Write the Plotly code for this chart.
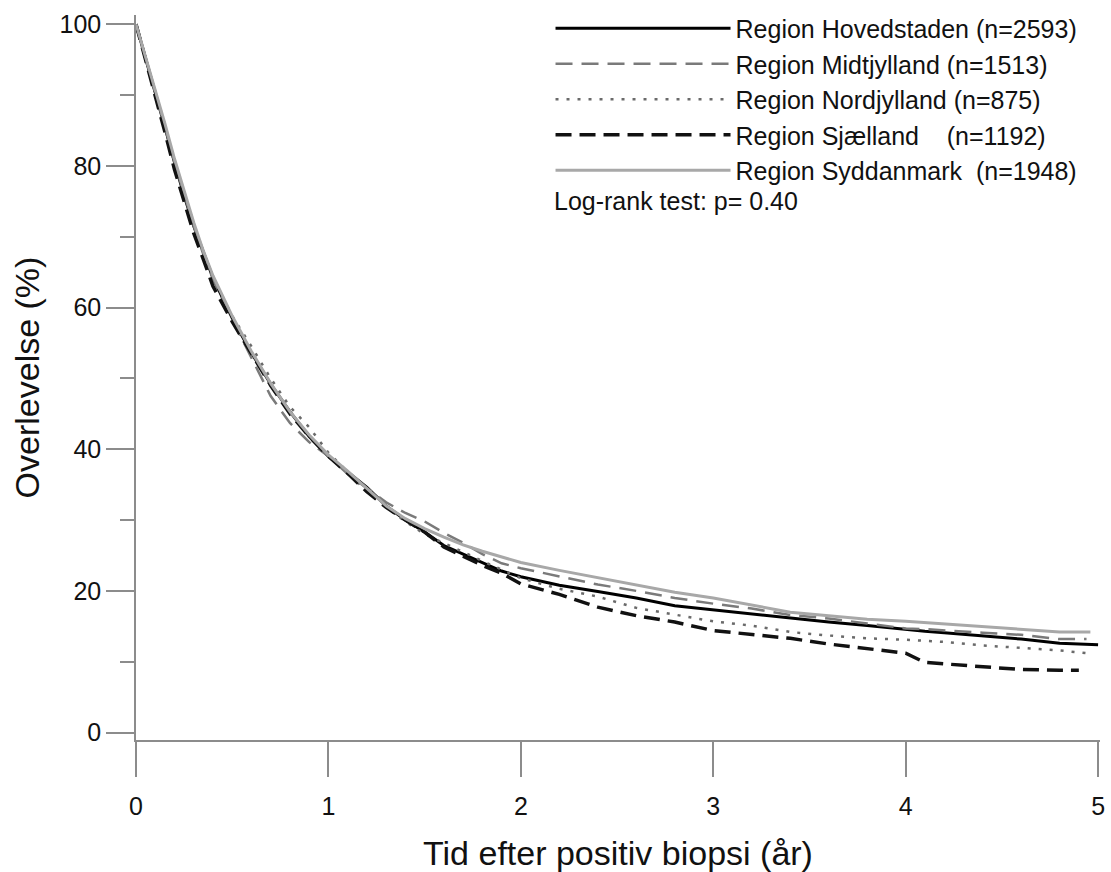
import plotly.graph_objects as go

# Time grid (years after positive biopsy)
time_years = [0, 0.05, 0.1, 0.15, 0.2, 0.25, 0.3, 0.35, 0.4, 0.5, 0.6, 0.7, 0.8, 0.9,
              1.0, 1.1, 1.2, 1.3, 1.4, 1.5, 1.6, 1.7, 1.8, 1.9, 2.0, 2.2, 2.4, 2.6,
              2.8, 3.0, 3.2, 3.4, 3.6, 3.8, 4.0, 4.1, 4.2, 4.4, 4.6, 4.8]

hovedstaden = [100, 95.2, 90.5, 85.5, 80.5, 75.8, 71.5, 67.7, 64.2, 58.5, 53.6, 49.2, 45.3, 41.8,
               39.0, 36.8, 34.6, 32.0, 30.0, 28.3, 26.4, 25.2, 24.0, 22.8, 22.0, 20.8, 19.9, 19.0,
               17.9, 17.3, 16.8, 16.1, 15.6, 15.1, 14.5, 14.3, 14.1, 13.7, 13.2, 12.6]
midtjylland = [100, 95.0, 90.3, 85.5, 80.5, 76.0, 71.5, 67.5, 64.0, 58.3, 53.0, 47.5, 43.7, 41.0,
               39.0, 36.5, 34.5, 32.5, 31.0, 29.8, 28.2, 26.8, 25.2, 23.9, 23.2, 22.0, 20.9, 20.0,
               19.0, 18.2, 17.5, 16.6, 16.1, 15.4, 14.7, 14.6, 14.4, 14.1, 13.8, 13.2]
nordjylland = [100, 95.3, 90.6, 85.8, 80.8, 76.2, 71.8, 67.8, 64.3, 58.8, 54.5, 50.0, 46.0, 43.1,
               39.5, 36.8, 34.0, 31.8, 29.8, 28.0, 26.8, 25.5, 24.2, 23.0, 21.8, 20.3, 19.2, 17.6,
               16.6, 15.7, 15.1, 14.2, 13.7, 13.3, 13.1, 13.0, 12.8, 12.3, 12.0, 11.6]
sjaelland = [100, 95.0, 90.0, 84.8, 79.5, 74.8, 70.5, 66.8, 63.0, 58.0, 53.5, 49.0, 45.0, 41.8,
             39.0, 36.6, 34.0, 31.8, 30.0, 28.3, 26.2, 24.9, 23.6, 22.5, 21.0, 19.5, 17.7, 16.5,
             15.6, 14.4, 13.8, 13.3, 12.5, 11.8, 11.2, 9.9, 9.7, 9.3, 8.9, 8.8]
syddanmark = [100, 95.4, 90.8, 86.0, 81.0, 76.5, 72.0, 68.0, 64.5, 58.8, 53.8, 49.3, 45.3, 42.0,
              39.2, 36.9, 34.5, 32.0, 30.2, 28.8, 27.6, 26.5, 25.6, 24.8, 24.0, 22.9, 21.9, 20.9,
              19.8, 19.0, 18.0, 17.0, 16.5, 16.0, 15.7, 15.5, 15.3, 14.9, 14.5, 14.2]

series_names = ["Region Hovedstaden (n=2593)",
                "Region Midtjylland (n=1513)",
                "Region Nordjylland (n=875)",
                "Region Sj\u00e6lland \u00a0\u00a0\u00a0(n=1192)",
                "Region Syddanmark \u00a0(n=1948)"]
series_values = [hovedstaden, midtjylland, nordjylland, sjaelland, syddanmark]
end_times = [5.0, 4.94, 4.94, 4.90, 4.96]
end_values = [12.4, 13.2, 11.2, 8.8, 14.2]

styles = [
    dict(color="#000000", width=3, dash="solid"),
    dict(color="#7a7a7a", width=2.5, dash="17px,9px"),
    dict(color="#6a6a6a", width=2.5, dash="3px,8px"),
    dict(color="#111111", width=3.5, dash="16px,8px"),
    dict(color="#a8a8a8", width=3, dash="solid"),
]

fig = go.Figure()
for name, vals, te, ve, st in zip(series_names, series_values, end_times, end_values, styles):
    fig.add_trace(go.Scatter(x=time_years + [te], y=vals + [ve], mode="lines",
                             name=name, line=st))

axis_color = "#8c8c8c"
font_family = "Liberation Sans, Arial, sans-serif"

fig.update_layout(
    width=1111, height=872,
    margin=dict(l=136, r=11, t=15, b=132, autoexpand=False),
    paper_bgcolor="white", plot_bgcolor="white",
    font=dict(family=font_family, color="#111111", size=25),
    showlegend=True,
    legend=dict(x=0.43, y=1.013, xanchor="left", yanchor="top",
                bgcolor="rgba(0,0,0,0)", font=dict(size=25), itemwidth=175,
                tracegroupgap=0),
    annotations=[dict(text="Log-rank test: p= 0.40", xref="paper", yref="paper",
                      x=0.432, y=0.743, xanchor="left", yanchor="middle",
                      showarrow=False, font=dict(size=25))],
)
fig.update_xaxes(
    range=[0, 5.01], tickvals=[0, 1, 2, 3, 4, 5], ticks="outside", ticklen=35,
    tickcolor=axis_color, tickwidth=1.5, showline=True, linecolor=axis_color, linewidth=1.5,
    showgrid=False, zeroline=False, tickfont=dict(size=25), ticklabelstandoff=8,
    title=dict(text="Tid efter positiv biopsi (\u00e5r)", font=dict(size=34), standoff=24),
)
fig.update_yaxes(
    range=[-1.05, 101.3], tickvals=[0, 20, 40, 60, 80, 100], ticks="outside", ticklen=28,
    tickcolor=axis_color, tickwidth=1.5, showline=True, linecolor=axis_color, linewidth=1.5,
    showgrid=False, zeroline=False, tickfont=dict(size=25),
    minor=dict(tickvals=[10, 30, 50, 70, 90], ticks="outside", ticklen=14,
               tickcolor=axis_color, tickwidth=1.5),
    title=dict(text="Overlevelse (%)", font=dict(size=34), standoff=10),
)

fig.write_html("out.html")
